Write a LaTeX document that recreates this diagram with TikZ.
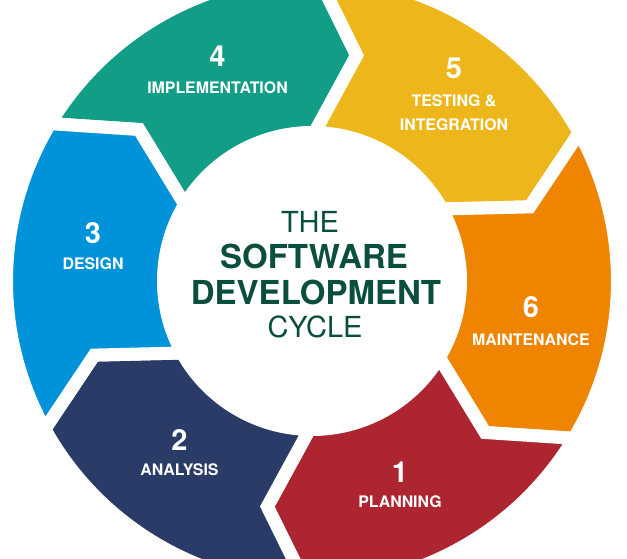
\documentclass[tikz,border=0pt]{standalone}
\usepackage{fontspec}
\setmainfont{TeX Gyre Heros}
\usetikzlibrary{positioning}
\definecolor{cplan}{RGB}{173,37,48}
\definecolor{canal}{RGB}{42,59,104}
\definecolor{cdes}{RGB}{0,147,217}
\definecolor{cimpl}{RGB}{18,157,134}
\definecolor{ctest}{RGB}{237,183,28}
\definecolor{cmaint}{RGB}{238,132,0}
\definecolor{ctitle}{RGB}{10,78,62}

\begin{document}
\begin{tikzpicture}[x=1pt,y=1pt,
    seg/.style={draw=white, line width=13pt, line join=miter},
    num/.style={text=white, inner sep=0pt, anchor=base,
        font=\fontsize{29}{29}\selectfont\bfseries},
    lbl/.style={text=white, inner sep=0pt, align=center,
        font=\fontsize{15.9}{24}\selectfont\bfseries},
    ttl light/.style={text=ctitle, inner sep=0pt, anchor=base,
        font=\fontsize{29}{29}\selectfont},
    ttl bold/.style={text=ctitle, inner sep=0pt, anchor=base,
        font=\fontsize{33}{33}\selectfont\bfseries}]

\useasboundingbox (0,0) rectangle (627,559);
\clip (0,0) rectangle (627,559);

% Ring of steps
\coordinate (c) at (312,278);
\def\ro{305.5}
\def\rm{230}
\def\ri{148.5}
\begin{scope}[shift={(c)}]
\draw[seg, fill=cimpl] (149:\ro) arc[start angle=149, end angle=89, radius=\ro]
    -- (78.8:\rm) -- (89:\ri) arc[start angle=89, end angle=149, radius=\ri] -- (138.8:\rm) -- cycle;
\draw[seg, fill=ctest] (89:\ro) arc[start angle=89, end angle=29, radius=\ro]
    -- (18.8:\rm) -- (29:\ri) arc[start angle=29, end angle=89, radius=\ri] -- (78.8:\rm) -- cycle;
\draw[seg, fill=cmaint] (29:\ro) arc[start angle=29, end angle=-31, radius=\ro]
    -- (-41.2:\rm) -- (-31:\ri) arc[start angle=-31, end angle=29, radius=\ri] -- (18.8:\rm) -- cycle;
\draw[seg, fill=cplan] (-31:\ro) arc[start angle=-31, end angle=-91, radius=\ro]
    -- (-101.2:\rm) -- (-91:\ri) arc[start angle=-91, end angle=-31, radius=\ri] -- (-41.2:\rm) -- cycle;
\draw[seg, fill=canal] (-91:\ro) arc[start angle=-91, end angle=-151, radius=\ro]
    -- (-161.2:\rm) -- (-151:\ri) arc[start angle=-151, end angle=-91, radius=\ri] -- (-101.2:\rm) -- cycle;
\draw[seg, fill=cdes] (209:\ro) arc[start angle=209, end angle=149, radius=\ro]
    -- (138.8:\rm) -- (149:\ri) arc[start angle=149, end angle=209, radius=\ri] -- (198.8:\rm) -- cycle;
\end{scope}

% Step numbers
\node[num] (n1) at (400,76.3) {1};
\node[num] (n2) at (179.5,108.3) {2};
\node[num] (n3) at (93,315.7) {3};
\node[num] (n4) at (217.5,492.3) {4};
\node[num] (n5) at (454,480.7) {5};
\node[num] (n6) at (531,241.7) {6};

% Step names
\node[lbl, below=25pt of n1.base, anchor=base] (l1) {PLANNING};
\node[lbl, below=25.3pt of n2.base, anchor=base] (l2) {ANALYSIS};
\node[lbl, below=26.7pt of n3.base, anchor=base] (l3) {DESIGN};
\node[lbl, below=26.6pt of n4.base, anchor=base] (l4) {IMPLEMENTATION};
\node[lbl, below=52.4pt of n5.base, anchor=base] (l5) {TESTING \&\\INTEGRATION};
\node[lbl, below=28.7pt of n6.base, anchor=base] (l6) {MAINTENANCE};

% Title
\node[ttl light] (the) at (310,326.7) {THE};
\node[ttl bold, below=36.7pt of the.base, anchor=base, xshift=4pt] (soft) {SOFTWARE};
\node[ttl bold, below=35.3pt of soft.base, anchor=base, xshift=2pt] (dev) {DEVELOPMENT};
\node[ttl light, below=33.4pt of dev.base, anchor=base, xshift=-1pt] (cyc) {CYCLE};

\end{tikzpicture}
\end{document}
